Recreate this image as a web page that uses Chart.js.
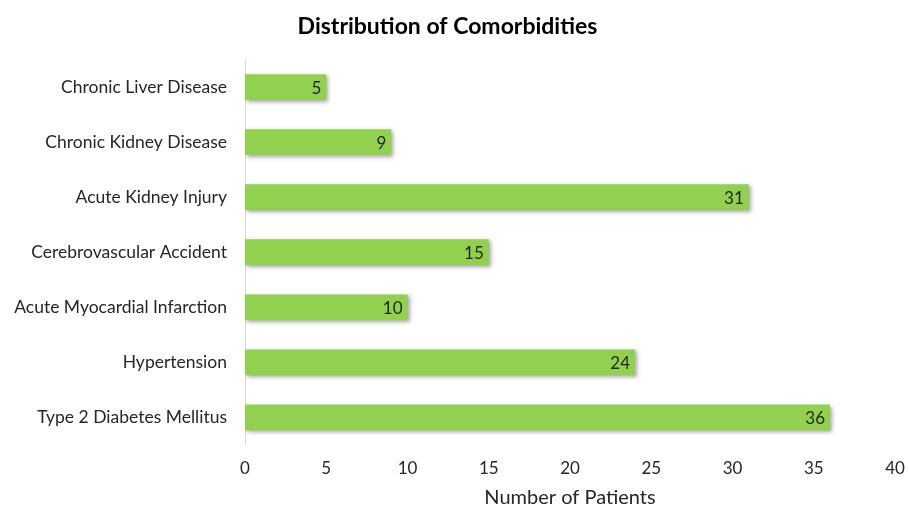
<!DOCTYPE html>
<html>
<head>
<meta charset="utf-8">
<script src="https://cdn.jsdelivr.net/npm/chart.js@4"></script>
<style>
  html, body { margin: 0; padding: 0; background: #fff; }
  #wrap { width: 909px; height: 510px; }
</style>
</head>
<body>
<div id="wrap"><canvas id="chart" width="909" height="510"></canvas></div>
<script>
// Datos del gráfico
const categories = [
  "Chronic Liver Disease",
  "Chronic Kidney Disease",
  "Acute Kidney Injury",
  "Cerebrovascular Accident",
  "Acute Myocardial Infarction",
  "Hypertension",
  "Type 2 Diabetes Mellitus"
];
const patients = [5, 9, 31, 15, 10, 24, 36];
const xTicks = [0, 5, 10, 15, 20, 25, 30, 35, 40];

const FONT = "Lato, 'Open Sans', sans-serif";
const TEXT = "#262626";

// Sombra debajo de las barras
const barShadow = {
  id: "barShadow",
  beforeDatasetDraw(chart) {
    const ctx = chart.ctx;
    ctx.save();
    ctx.shadowColor = "rgba(0,0,0,0.35)";
    ctx.shadowBlur = 4;
    ctx.shadowOffsetX = 2;
    ctx.shadowOffsetY = 2;
  },
  afterDatasetDraw(chart) {
    chart.ctx.restore();
  }
};

// Etiquetas de valor al final de cada barra
const valueLabels = {
  id: "valueLabels",
  afterDatasetsDraw(chart) {
    const ctx = chart.ctx;
    const meta = chart.getDatasetMeta(0);
    ctx.save();
    ctx.font = "17px " + FONT;
    ctx.fillStyle = TEXT;
    ctx.textAlign = "right";
    ctx.textBaseline = "middle";
    meta.data.forEach((bar, i) => {
      ctx.fillText(String(patients[i]), bar.x - 5, bar.y + 1);
    });
    ctx.restore();
  }
};

new Chart(document.getElementById("chart"), {
  type: "bar",
  data: {
    labels: categories,
    datasets: [{
      data: patients,
      backgroundColor: "#92D050",
      borderWidth: 0,
      categoryPercentage: 1,
      barPercentage: 0.47
    }]
  },
  options: {
    indexAxis: "y",
    responsive: false,
    animation: false,
    layout: { padding: { left: 0, right: 14, top: 0, bottom: 0 } },
    plugins: {
      legend: { display: false },
      tooltip: { enabled: false },
      title: {
        display: true,
        text: "Distribution of Comorbidities",
        color: "#000",
        font: { family: FONT, size: 23, weight: "bold", lineHeight: 1.2 },
        padding: { top: 13, bottom: 19 }
      }
    },
    scales: {
      x: {
        min: 0,
        max: 40,
        afterBuildTicks: (s) => { s.ticks = xTicks.map((v) => ({ value: v })); },
        grid: { display: false, drawTicks: false },
        border: { display: false },
        ticks: { color: TEXT, font: { family: FONT, size: 17 }, padding: 13 },
        title: {
          display: true,
          text: "Number of Patients",
          color: TEXT,
          font: { family: FONT, size: 20 },
          padding: { top: 4, bottom: 0 }
        },
        afterFit: (s) => { s.height = 65; s.paddingRight = 0; }
      },
      y: {
        grid: { display: false, drawTicks: false },
        border: { display: true, color: "#d9d9d9", width: 1 },
        ticks: { color: TEXT, font: { family: FONT, size: 17.5 }, padding: 18 },
        afterFit: (s) => { s.width = 245; }
      }
    }
  },
  plugins: [barShadow, valueLabels]
});
</script>
</body>
</html>
